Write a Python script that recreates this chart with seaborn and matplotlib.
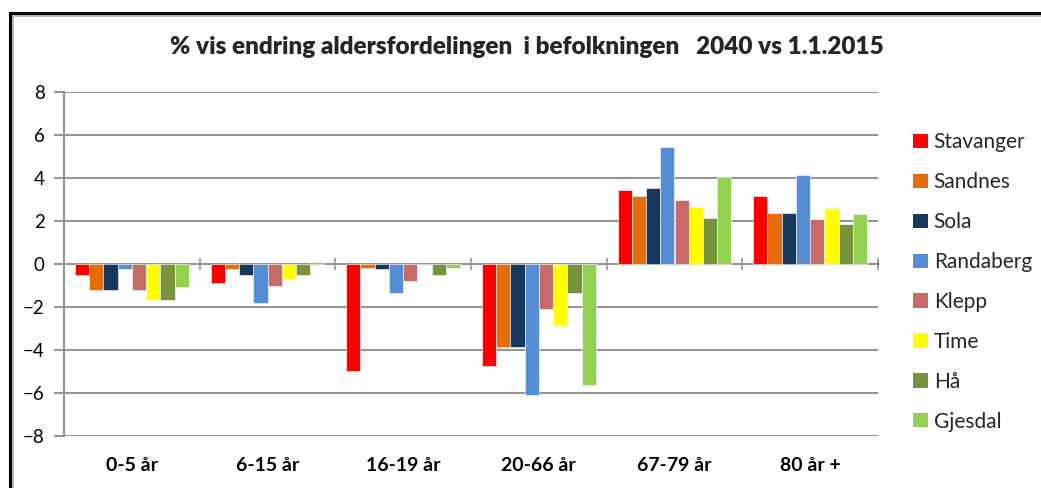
import matplotlib
matplotlib.use("Agg")
import matplotlib.pyplot as plt
from matplotlib.patches import Rectangle, Patch
import pandas as pd
import seaborn as sns

# Age groups and municipalities
age_groups = ["0-5 år", "6-15 år", "16-19 år", "20-66 år", "67-79 år", "80 år +"]
municipalities = ["Stavanger", "Sandnes", "Sola", "Randaberg", "Klepp", "Time", "Hå", "Gjesdal"]

# Percentage change per age group, one list per municipality
stavanger = [-0.50, -0.90, -4.95, -4.75, 3.45, 3.15]
sandnes = [-1.20, -0.25, -0.20, -3.85, 3.15, 2.35]
sola = [-1.20, -0.50, -0.25, -3.85, 3.55, 2.35]
randaberg = [-0.25, -1.80, -1.35, -6.10, 5.45, 4.15]
klepp = [-1.20, -1.00, -0.80, -2.10, 2.95, 2.10]
time_ = [-1.65, -0.70, 0.00, -2.90, 2.65, 2.60]
haa = [-1.65, -0.50, -0.50, -1.35, 2.15, 1.85]
gjesdal = [-1.05, 0.08, -0.20, -5.60, 4.05, 2.30]

colors = ["#FF0000", "#E46C0A", "#17375E", "#558ED5", "#C86A68", "#FFFF00", "#77933C", "#92D050"]

series = [stavanger, sandnes, sola, randaberg, klepp, time_, haa, gjesdal]
rows = []
for name, vals in zip(municipalities, series):
    for age, v in zip(age_groups, vals):
        rows.append({"Aldersgruppe": age, "Kommune": name, "Endring": v})
df = pd.DataFrame(rows)

sns.set_theme(style="white")
plt.rcParams["font.family"] = ["Lato", "DejaVu Sans"]

W, H = 1041, 488
fig = plt.figure(figsize=(W / 100, H / 100), dpi=100)

# Plot area in pixel coordinates
left, right, top, bottom = 64, 878, 91.7, 436.3
ax = fig.add_axes([left / W, 1 - bottom / H, (right - left) / W, (bottom - top) / H])

sns.barplot(data=df, x="Aldersgruppe", y="Endring", hue="Kommune",
            order=age_groups, hue_order=municipalities, palette=colors,
            width=0.84, saturation=1, errorbar=None, ax=ax,
            edgecolor="white", linewidth=0.4, legend=False)

grid_col = "#959595"
ax.set_ylim(-8, 8)
ax.set_xlim(-0.5, len(age_groups) - 0.5)
ax.set_yticks(range(-8, 9, 2))
ax.yaxis.grid(True, color=grid_col, linewidth=1.5)
ax.set_axisbelow(True)
for s in ["top", "right", "bottom"]:
    ax.spines[s].set_visible(False)
ax.spines["left"].set_color(grid_col)
ax.spines["left"].set_linewidth(1.5)
ax.tick_params(axis="y", direction="out", length=7, width=1.5, color=grid_col,
               labelsize=13.5, pad=7, left=True, labelcolor="black")
ax.tick_params(axis="x", length=0, labelsize=14, pad=15, labelcolor="black")
for lab in ax.get_xticklabels():
    lab.set_fontweight("bold")
ax.set_xlabel("")
ax.set_ylabel("")

# Category axis drawn through zero with boundary tick marks
sec = ax.secondary_xaxis(0.5)
sec.set_xticks([i - 0.5 for i in range(len(age_groups) + 1)])
sec.set_xticklabels([])
sec.tick_params(direction="inout", length=9, width=1.2, color=grid_col,
                labelbottom=False, labeltop=False)
sec.spines["bottom"].set_color(grid_col)
sec.spines["bottom"].set_linewidth(1.5)

fig.text(527 / W, 1 - 47 / H,
         "% vis endring aldersfordelingen  i befolkningen   2040 vs 1.1.2015",
         ha="center", va="center", fontsize=17.5, fontweight="heavy")

handles = [Patch(facecolor=c, edgecolor="none", label=m) for c, m in zip(colors, municipalities)]
fig.legend(handles=handles, loc="upper left", bbox_to_anchor=(905 / W, 1 - 124 / H),
           frameon=False, fontsize=15, handlelength=0.68, handleheight=0.68,
           handletextpad=0.3, labelspacing=0.955, borderaxespad=0)

# Chart border
fig.patches.append(Rectangle((9.5 / W, -0.1), 1.2, 1 - 13 / H + 0.1, transform=fig.transFigure,
                             fill=False, edgecolor="black", linewidth=2.2))
fig.patches.append(Rectangle((12.5 / W, -0.1), 1.2, 1 - 16 / H + 0.1, transform=fig.transFigure,
                             fill=False, edgecolor="#AAAAAA", linewidth=1.2))

fig.savefig("out.png", dpi=100)
